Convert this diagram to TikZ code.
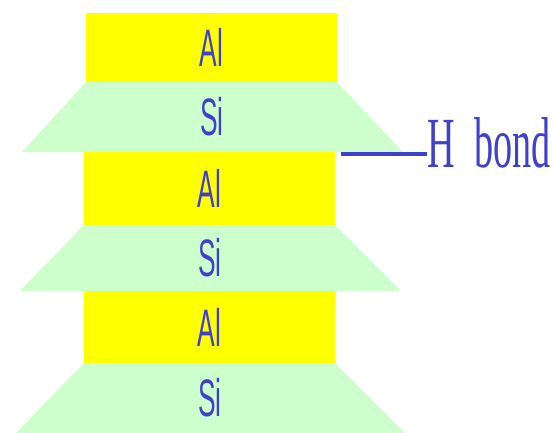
\documentclass[tikz,border=0pt]{standalone}
\usepackage{fontspec}
\newfontfamily\layerfont[FakeStretch=0.5]{Liberation Sans}
\newfontfamily\bondfont[FakeStretch=0.53]{Liberation Serif}
\definecolor{alyellow}{RGB}{255,255,0}
\definecolor{sigreen}{RGB}{204,255,204}
\definecolor{labelblue}{RGB}{64,64,206}
\tikzset{
  al/.style={fill=alyellow,inner sep=0pt,minimum width=5.02cm,minimum height=#1,
    text=labelblue,font=\layerfont\fontsize{30}{30}\selectfont},
  al/.default=1.4cm,
  si/.style={fill=sigreen},
  sitext/.style={inner sep=0pt,text=labelblue,font=\layerfont\fontsize{30}{30}\selectfont},
  bond/.style={draw=labelblue,line width=2.3pt},
}
\begin{document}
\begin{tikzpicture}[x=0.02cm,y=-0.02cm]
  \useasboundingbox (0,0) rectangle (552,433);
  % tetrahedral sheets (trapezia)
  \fill[si] (86,82) -- (337,82) -- (403,152) -- (22,152) -- cycle;
  \fill[si] (84,225) -- (335,225) -- (401,291) -- (20,291) -- cycle;
  \fill[si] (84,363) -- (335,363) -- (405,433) -- (16,433) -- cycle;
  \node[sitext] (si1) at (212,117) {Si};
  \node[sitext] (si2) at (210,258) {Si};
  \node[sitext] (si3) at (210,398) {Si};
  % octahedral sheets
  \node[al=1.38cm] (al1) at (211.5,47.5) {Al};
  \node[al=1.46cm] (al2) at (209.5,188.5) {Al};
  \node[al=1.44cm] (al3) at (209.5,327) {Al};
  % hydrogen bond between the sheets
  \coordinate (hb) at (341,154);
  \node[anchor=base west,inner sep=0pt,text=labelblue,
    font=\bondfont\fontsize{41}{41}\selectfont] (hlabel) at (427,167) {H\hspace{0.27em}bond};
  \draw[bond] (hb) -- (hb -| hlabel.west);
\end{tikzpicture}
\end{document}
